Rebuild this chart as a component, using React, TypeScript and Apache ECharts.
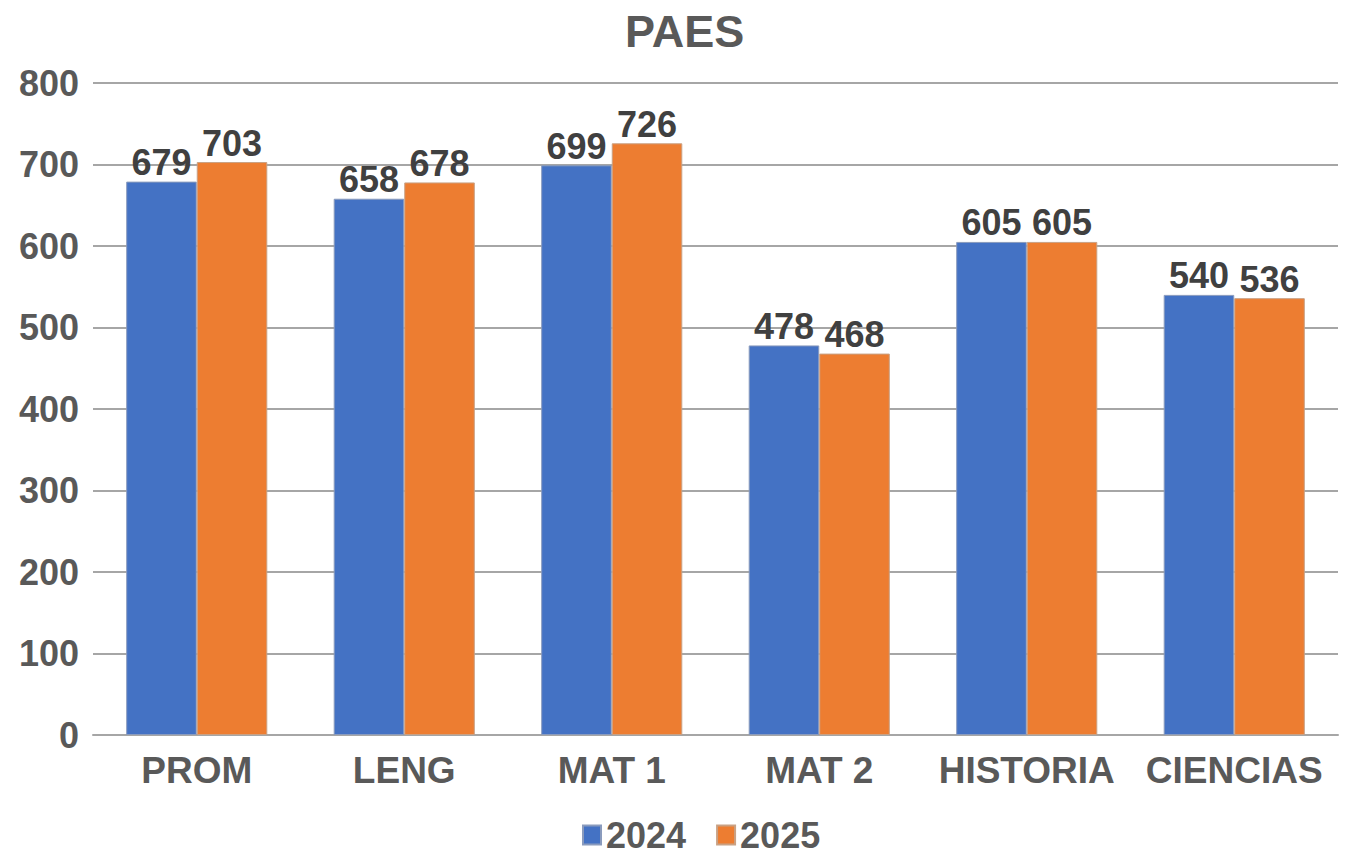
import React, { useEffect, useRef } from "react";
import * as echarts from "echarts";

const categories = ["PROM", "LENG", "MAT 1", "MAT 2", "HISTORIA", "CIENCIAS"];
const values2024 = [679, 658, 699, 478, 605, 540];
const values2025 = [703, 678, 726, 468, 605, 536];
const seriesNames = ["2024", "2025"];

const FONT = "'Liberation Sans', Arial, sans-serif";
const TXT = "#595959";

export default function App() {
  const ref = useRef<HTMLDivElement>(null);
  useEffect(() => {
    if (!ref.current) return;
    const chart = echarts.init(ref.current, null, { renderer: "svg" });
    const label = {
      show: true,
      position: "top",
      distance: 1,
      fontFamily: FONT,
      fontWeight: "bold",
      fontSize: 36,
      color: "#404040",
    };
    chart.setOption({
      animation: false,
      backgroundColor: "#ffffff",
      textStyle: { fontFamily: FONT },
      title: {
        text: "PAES",
        left: 620,
        top: 4,
        textStyle: { fontFamily: FONT, fontWeight: "bold", fontSize: 45, color: TXT },
      },
      legend: {
        data: seriesNames,
        top: 817,
        left: 582,
        padding: 0,
        itemWidth: 18,
        itemHeight: 19,
        itemGap: 30,
        icon: "rect",
        textStyle: { fontFamily: FONT, fontWeight: "bold", fontSize: 36, lineHeight: 34, color: TXT },
      },
      grid: { left: 93, right: 8, top: 83, bottom: 120, containLabel: false },
      xAxis: {
        type: "category",
        data: categories,
        axisLine: { lineStyle: { color: "#a6a6a6", width: 2 } },
        axisTick: { show: false },
        axisLabel: { interval: 0, margin: 17, fontFamily: FONT, fontWeight: "bold", fontSize: 37, color: TXT },
      },
      yAxis: {
        type: "value",
        min: 0,
        max: 800,
        interval: 100,
        axisLine: { show: false },
        axisTick: { show: false },
        splitLine: { lineStyle: { color: "#a6a6a6", width: 2 } },
        axisLabel: { margin: 14, fontFamily: FONT, fontWeight: "bold", fontSize: 36, color: TXT },
      },
      series: [
        {
          name: seriesNames[0],
          type: "bar",
          data: values2024,
          barGap: "0%",
          barCategoryGap: "32%",
          itemStyle: { color: "#4472C4", borderColor: "#8a9bbd", borderWidth: 1 },
          label,
        },
        {
          name: seriesNames[1],
          type: "bar",
          data: values2025,
          barGap: "0%",
          barCategoryGap: "32%",
          itemStyle: { color: "#ED7D31", borderColor: "#c9a184", borderWidth: 1 },
          label,
        },
      ],
    });
    return () => chart.dispose();
  }, []);
  return (
    <div
      ref={ref}
      style={{ position: "fixed", left: 0, top: 0, width: 1346, height: 855 }}
    />
  );
}
